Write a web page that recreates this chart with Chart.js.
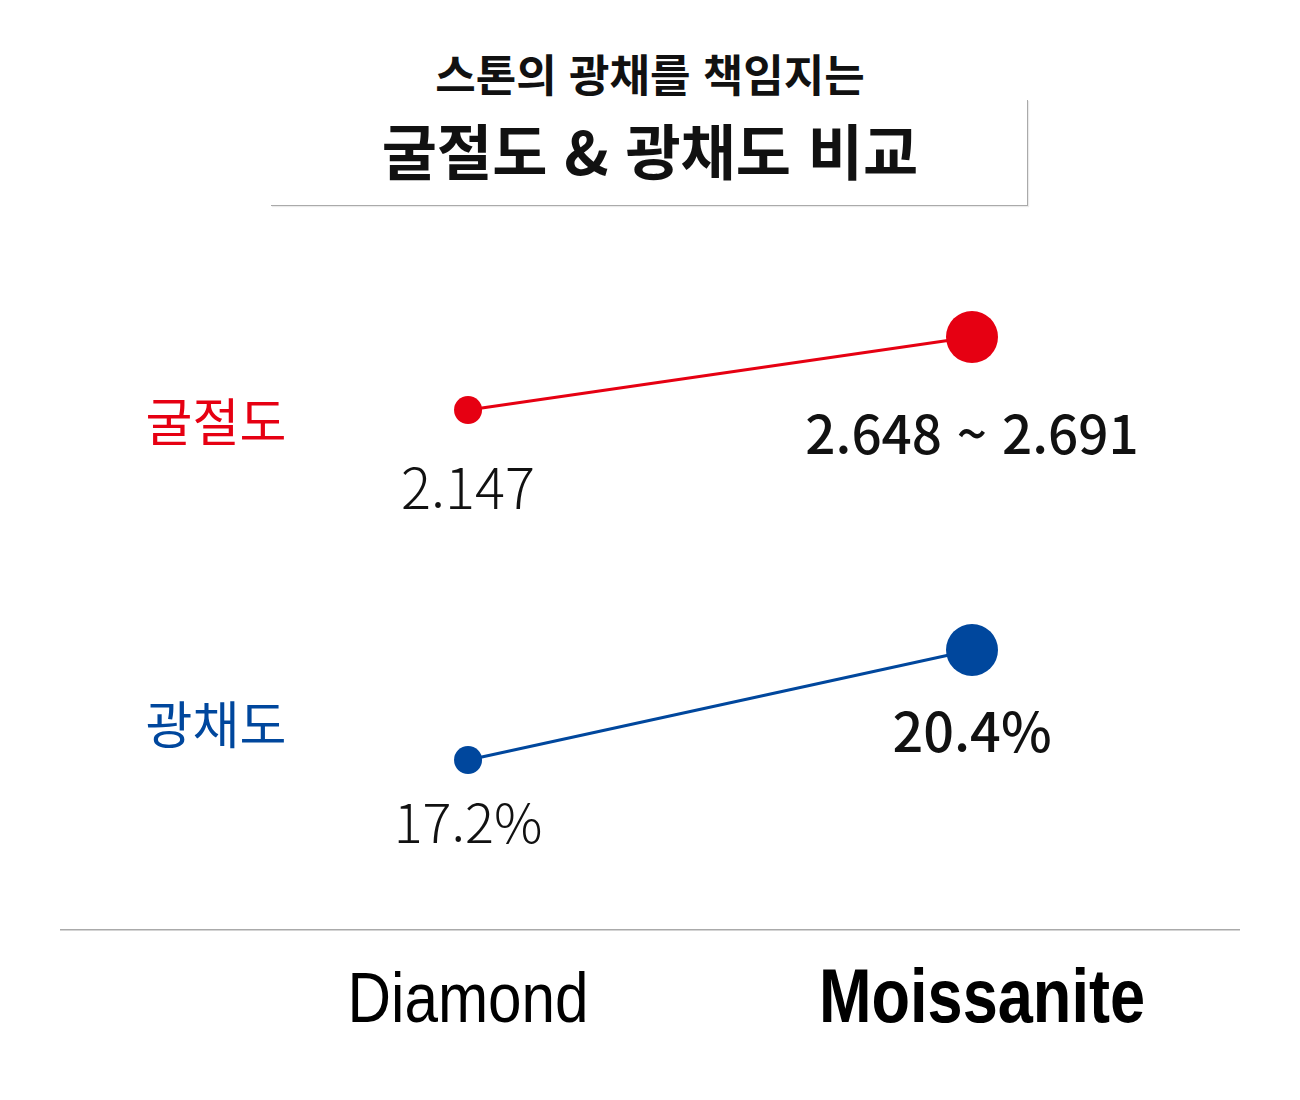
<!DOCTYPE html>
<html lang="ko">
<head>
<meta charset="utf-8">
<title>굴절도 & 광채도 비교</title>
<script src="https://cdn.jsdelivr.net/npm/chart.js@4.4.1/dist/chart.umd.min.js"></script>
<style>
  body { margin: 0; background: #fff; }
  #wrap { position: relative; width: 1300px; height: 1100px; overflow: hidden; }
  #chartBox { position: absolute; left: 0; top: 0; width: 1300px; height: 1100px; }
  .title-box { position: absolute; left: 271px; top: 100px; width: 756px; height: 105px;
    border-right: 1px solid #aaa; border-bottom: 1px solid #aaa; box-shadow: 1px 1px 1px rgba(0,0,0,0.08); }
  .sub, .main { position: absolute; left: 0; width: 1300px; text-align: center; line-height: 1;
    font-family: "Noto Sans CJK KR", sans-serif; color: #111; }
  .sub { top: 51px; font-size: 44px; font-weight: 700; letter-spacing: 0; }
  .main { top: 119px; font-size: 60px; font-weight: 700; letter-spacing: 0; }
</style>
</head>
<body>
<div id="wrap">
  <div class="title-box"></div>
  <div class="sub">스톤의 광채를 책임지는</div>
  <div class="main">굴절도 &amp; 광채도 비교</div>
  <div id="chartBox"><canvas id="chart"></canvas></div>
</div>
<script>
// ---- 데이터 ----
var categories = ['Diamond', 'Moissanite'];
var categoryX = [0, 1];
var seriesNames = ['굴절도', '광채도'];
var refraction = [2.147, 2.67];
var refractionText = ['2.147', '2.648 ~ 2.691'];
var brilliance = [17.2, 20.4];
var brillianceText = ['17.2%', '20.4%'];

var RED = '#e60012', BLUE = '#00479d';
var KR = '"Noto Sans CJK KR", sans-serif';
var LAT = '"Liberation Sans", Arial, sans-serif';

function toPoints(vals) { return categoryX.map(function(x, i) { return { x: x, y: vals[i] }; }); }

// 값 라벨 + 행 라벨 + 축 라벨 (좁은 글꼴 흉내: 가로 압축)
var labelPlugin = {
  id: 'valueLabels',
  afterDraw: function(chart) {
    var ctx = chart.ctx;
    var texts = [refractionText, brillianceText];
    var offsets = [[78, 97], [63, 81]];
    var fonts = [['300 56px ', '500 53px '], ['300 54px ', '500 54px ']];
    ctx.save();
    ctx.textAlign = 'center';
    ctx.textBaseline = 'middle';
    chart.data.datasets.forEach(function(ds, di) {
      var meta = chart.getDatasetMeta(di);
      meta.data.forEach(function(pt, i) {
        ctx.fillStyle = '#111';
        ctx.font = fonts[di][i] + KR;
        ctx.fillText(texts[di][i], pt.x, pt.y + offsets[di][i]);
      });
    });
    // 행 라벨
    var rowY = [422, 725];
    ctx.font = '400 51px ' + KR;
    seriesNames.forEach(function(name, i) {
      ctx.fillStyle = i === 0 ? RED : BLUE;
      ctx.fillText(name, 216, rowY[i]);
    });
    // x축 라벨
    var xs = chart.scales.x, base = chart.chartArea.bottom + 92;
    var xFonts = ['normal 70px ' + LAT, 'bold 76px ' + LAT];
    var squeeze = [0.86, 0.83], nudge = [0, 10];
    ctx.textBaseline = 'alphabetic';
    ctx.fillStyle = '#000';
    categories.forEach(function(c, i) {
      ctx.save();
      ctx.translate(xs.getPixelForValue(categoryX[i]) + nudge[i], base);
      ctx.scale(squeeze[i], 1);
      ctx.font = xFonts[i];
      ctx.fillText(c, 0, 0);
      ctx.restore();
    });
    ctx.restore();
  }
};

new Chart(document.getElementById('chart'), {
  type: 'line',
  data: {
    datasets: [
      { label: seriesNames[0], data: toPoints(refraction), yAxisID: 'y1',
        borderColor: RED, backgroundColor: RED, pointBackgroundColor: RED, pointBorderWidth: 0,
        borderWidth: 3, pointRadius: [14, 26], clip: false },
      { label: seriesNames[1], data: toPoints(brilliance), yAxisID: 'y2',
        borderColor: BLUE, backgroundColor: BLUE, pointBackgroundColor: BLUE, pointBorderWidth: 0,
        borderWidth: 3, pointRadius: [14, 26], clip: false }
    ]
  },
  options: {
    responsive: true, maintainAspectRatio: false, animation: false, events: [],
    layout: { padding: { left: 61, right: 61, top: 230, bottom: 0 } },
    plugins: { legend: { display: false }, tooltip: { enabled: false } },
    scales: {
      x: {
        type: 'linear', min: -0.8077, max: 1.5298,
        afterBuildTicks: function(s) { s.ticks = categoryX.map(function(v) { return { value: v }; }); },
        afterFit: function(s) { s.height = 170; },
        grid: { display: false },
        border: { display: true, color: '#aaa', width: 1.5 },
        ticks: { display: false }
      },
      y1: { type: 'linear', display: false, min: -1.578, max: 3.4365 },
      y2: { type: 'linear', display: false, min: 12.254, max: 32.618 }
    }
  },
  plugins: [labelPlugin]
});
</script>
</body>
</html>
